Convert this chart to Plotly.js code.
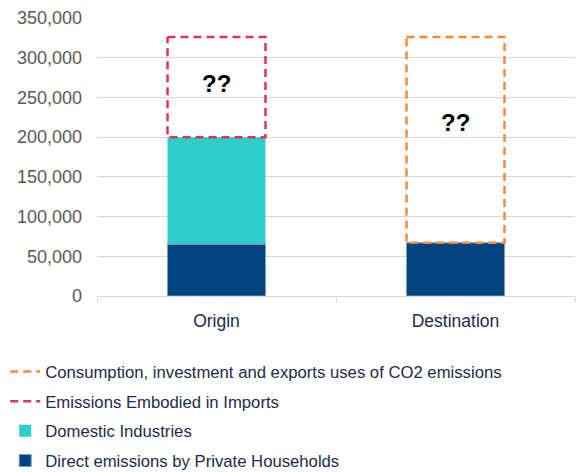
<!DOCTYPE html>
<html>
<head>
<meta charset="utf-8">
<script src="https://cdn.plot.ly/plotly-3.0.1.min.js"></script>
<style>html,body{margin:0;padding:0;background:#fff;}#chart{width:579px;height:472px;}</style>
</head>
<body>
<div id="chart"></div>
<script>
// ---- data ----
var categories = ['Origin', 'Destination'];
var households = [65000, 67000];      // Direct emissions by Private Households
var domestic = [135000, 0];           // Domestic Industries
var imports = [126000, 0];            // Emissions Embodied in Imports (dashed box)
var consumption = [0, 259000];        // Consumption, investment and exports uses (dashed box)
var unknownLabels = ['??', '??'];
var unknownLabelY = [267000, 218000];

var names = {
  consumption: 'Consumption, investment and exports uses of CO2 emissions',
  imports: 'Emissions Embodied in Imports',
  domestic: 'Domestic Industries',
  households: 'Direct emissions by Private Households'
};
var colors = {
  households: '#01437f',
  domestic: '#2ecdcc',
  imports: '#e3344f',
  consumption: '#f58b3b'
};

var idx = categories.map(function (c, i) { return i; });
var barWidth = 0.41;

function outline(values) {
  var xs = [], ys = [];
  values.forEach(function (v, i) {
    if (!v) return;
    var base = households[i] + domestic[i];
    var top = base + v;
    var x0 = i - barWidth / 2, x1 = i + barWidth / 2;
    xs.push(x0, x1, x1, x0, x0, null);
    ys.push(top, top, base, base, top, null);
  });
  return {x: xs, y: ys};
}

var oc = outline(consumption);
var oi = outline(imports);

var traces = [
  {
    type: 'scatter', mode: 'lines', name: names.consumption,
    x: oc.x, y: oc.y, legendgroup: 'a',
    line: {color: colors.consumption, width: 2.5, dash: '8px,5px'},
    hoverinfo: 'skip'
  },
  {
    type: 'scatter', mode: 'lines', name: names.imports,
    x: oi.x, y: oi.y, legendgroup: 'b',
    line: {color: colors.imports, width: 2.5, dash: '8px,5px'},
    hoverinfo: 'skip'
  },
  {
    type: 'bar', name: names.domestic, x: idx, y: domestic, base: households,
    width: barWidth, legendgroup: 'c',
    marker: {color: colors.domestic, line: {width: 0}}
  },
  {
    type: 'bar', name: names.households, x: idx, y: households,
    width: barWidth, legendgroup: 'd',
    marker: {color: colors.households, line: {width: 1, color: '#7f9cc4'}}
  }
];

var annotations = idx.map(function (i) {
  return {
    x: i, y: unknownLabelY[i], xref: 'x', yref: 'y', text: '<b>' + unknownLabels[i] + '</b>',
    showarrow: false, font: {family: 'Liberation Sans, Arial, sans-serif', size: 24, color: '#000'},
    xanchor: 'center', yanchor: 'middle'
  };
});

var layout = {
  width: 579, height: 472,
  margin: {l: 97, r: 4, t: 18, b: 176, autoexpand: false},
  paper_bgcolor: '#fff', plot_bgcolor: '#fff',
  font: {family: 'Liberation Sans, Arial, sans-serif'},
  showlegend: true,
  barmode: 'overlay',
  xaxis: {
    type: 'linear', range: [-0.5, 1.5], fixedrange: true,
    tickmode: 'array', tickvals: idx, ticktext: categories,
    ticks: '', showgrid: false, zeroline: false,
    showline: true, linecolor: '#d9d9d9', linewidth: 1,
    ticklabelstandoff: 9,
    tickfont: {size: 17.5, color: '#1c2b4a'},
    minor: {tickmode: 'linear', tick0: -0.5, dtick: 1, ticks: 'outside', ticklen: 5, tickcolor: '#d9d9d9', tickwidth: 1, showgrid: false}
  },
  yaxis: {
    range: [0, 350000], fixedrange: true,
    tickmode: 'linear', tick0: 0, dtick: 50000, tickformat: ',d',
    showgrid: true, gridcolor: '#d9d9d9', gridwidth: 1,
    zeroline: true, zerolinecolor: '#d9d9d9', zerolinewidth: 1,
    ticks: '', ticklabelstandoff: 14,
    tickfont: {size: 18, color: '#595959'}
  },
  legend: {
    orientation: 'v', xref: 'container', yref: 'container',
    x: 0.009, xanchor: 'left', y: 0.2498, yanchor: 'top',
    traceorder: 'grouped', tracegroupgap: 5, itemwidth: 30,
    font: {size: 16.7, color: '#1c2b4a'},
    bgcolor: 'rgba(0,0,0,0)'
  },
  annotations: annotations
};

Plotly.newPlot('chart', traces, layout, {displayModeBar: false, staticPlot: true});
</script>
</body>
</html>
